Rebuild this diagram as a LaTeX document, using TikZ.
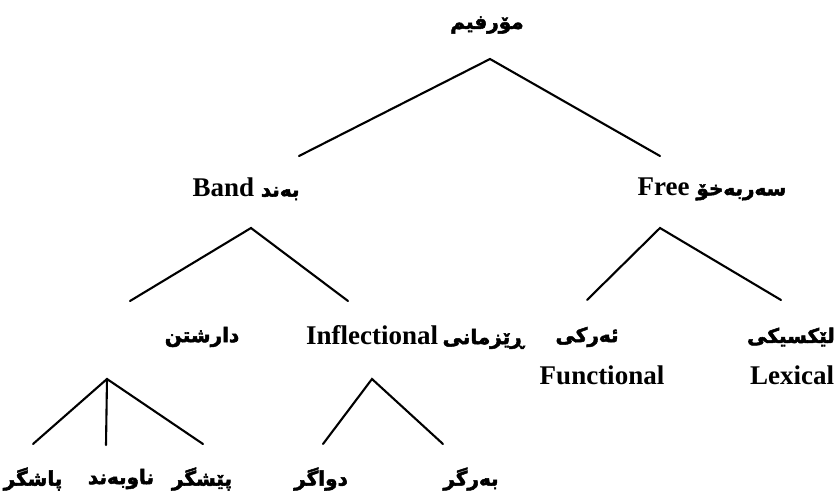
\documentclass[tikz,border=0pt]{standalone}
\usepackage{fontspec}
\setmainfont{Liberation Serif}
\newfontfamily\kurdfont[Script=Arabic, FakeBold=2.5]{DejaVu Sans}
\TeXXeTstate=1
\newcommand\kutext[1]{{\kurdfont\bfseries\fontsize{20}{24}\selectfont\beginR #1\endR}}
\begin{document}
\begin{tikzpicture}[x=1pt,y=-1pt,
  lbl/.style={inner sep=0pt, font=\fontsize{27}{29}\selectfont\bfseries},
  br/.style={line width=2.1pt, line cap=round}]
\useasboundingbox (0,0) rectangle (835,495);
% labels
\node[lbl] (root) at (487,25) {\kutext{مۆرفیم}};
\node[lbl] (band) at (246,189) {Band\ \kutext{بەند}};
\node[lbl] (free) at (712,189) {Free\ \kutext{سەربەخۆ}};
\node[lbl] (der) at (202,337) {\kutext{دارشتن}};
\node[lbl] (infl) at (415,337) {Inflectional\,\kutext{ڕێزمانی}};
\node[lbl] (func) at (587,337) {\kutext{ئەرکی}};
\node[lbl] (funcen) at (602,375) {Functional};
\node[lbl] (lex) at (791,337) {\kutext{لێکسیکی}};
\node[lbl] (lexen) at (792,375) {Lexical};
\node[lbl] (suf) at (33,479) {\kutext{پاشگر}};
\node[lbl] (inf) at (121,479) {\kutext{ناوبەند}};
\node[lbl] (pre) at (202,479) {\kutext{پێشگر}};
\node[lbl] (dwa) at (321,479) {\kutext{دواگر}};
\node[lbl] (ber) at (471,479) {\kutext{بەرگر}};
% branch points
\coordinate (a0) at (490,59);
\coordinate (a0l) at (299,156);
\coordinate (a0r) at (660,156);
\coordinate (a1) at (251,228);
\coordinate (a1l) at (130,301);
\coordinate (a1r) at (348,301);
\coordinate (a2) at (660,228);
\coordinate (a2l) at (587,300);
\coordinate (a2r) at (781,300);
\coordinate (a3) at (107,379);
\coordinate (a3l) at (33,444);
\coordinate (a3m) at (106,445);
\coordinate (a3r) at (203,444);
\coordinate (a4) at (372,379);
\coordinate (a4l) at (323,444);
\coordinate (a4r) at (443,444);
% branches
\draw[br] (a0l) -- (a0) -- (a0r);
\draw[br] (a1l) -- (a1) -- (a1r);
\draw[br] (a2l) -- (a2) -- (a2r);
\draw[br] (a3l) -- (a3) -- (a3r);
\draw[br] (a3) -- (a3m);
\draw[br] (a4l) -- (a4) -- (a4r);
\end{tikzpicture}
\end{document}
